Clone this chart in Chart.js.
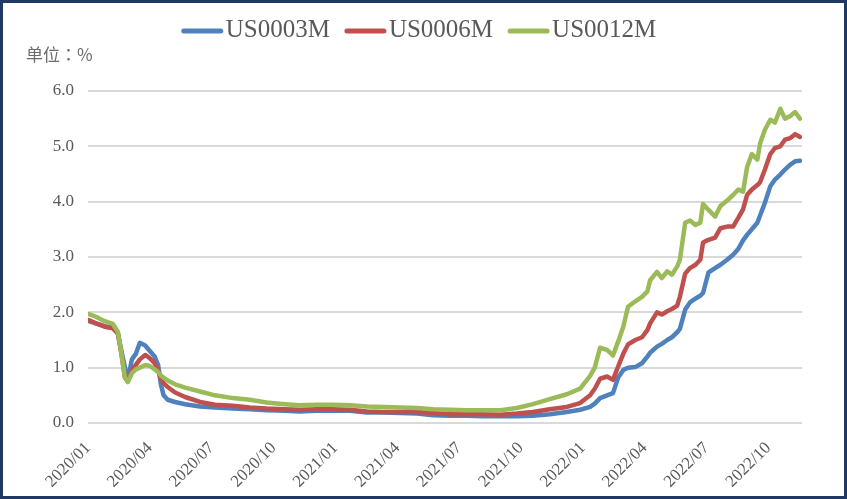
<!DOCTYPE html>
<html>
<head>
<meta charset="utf-8">
<script src="https://cdn.jsdelivr.net/npm/chart.js@4"></script>
<style>
  html, body { margin: 0; padding: 0; background: #fff; }
  #wrap { width: 847px; height: 499px; box-sizing: border-box; border: 3px solid #1F3864; background: #fff; }
  canvas { display: block; }
</style>
</head>
<body>
<div id="wrap"><canvas id="myChart" width="841" height="493"></canvas></div>
<script>
// dates of the sampled points
const dates = [
  '2020-01-02','2020-01-13','2020-01-26','2020-02-07','2020-02-14','2020-02-19','2020-02-24','2020-02-28',
  '2020-03-05','2020-03-11','2020-03-17','2020-03-25','2020-04-01','2020-04-08','2020-04-13','2020-04-17',
  '2020-04-21','2020-04-27','2020-05-08','2020-05-23','2020-06-14','2020-07-06','2020-08-02','2020-08-27',
  '2020-09-21','2020-10-18','2020-11-09','2020-12-04','2020-12-28','2021-01-23','2021-02-16','2021-03-11',
  '2021-04-05','2021-04-30','2021-05-24','2021-06-18','2021-07-13','2021-08-06','2021-09-01','2021-09-25',
  '2021-10-19','2021-11-13','2021-12-08','2021-12-28','2022-01-12','2022-01-19','2022-01-27','2022-02-06',
  '2022-02-14','2022-02-21','2022-02-28','2022-03-07','2022-03-18','2022-03-28','2022-04-05','2022-04-09',
  '2022-04-19','2022-04-26','2022-05-04','2022-05-11','2022-05-19','2022-05-23','2022-05-31','2022-06-07',
  '2022-06-15','2022-06-22','2022-06-26','2022-07-04','2022-07-14','2022-07-22','2022-08-01','2022-08-10',
  '2022-08-18','2022-08-25','2022-08-31','2022-09-07','2022-09-15','2022-09-19','2022-09-26','2022-10-04',
  '2022-10-11','2022-10-19','2022-10-26','2022-11-03','2022-11-10','2022-11-17'
]

const us0003m = [
  1.84,1.8,1.75,1.72,1.62,1.3,1.0,0.78,1.15,1.25,1.45,1.4,1.3,1.2,1.05,0.7,0.5,0.42,0.38,0.34,
  0.3,0.28,0.26,0.25,0.23,0.22,0.21,0.22,0.22,0.22,
  0.19,0.19,0.18,0.17,0.14,0.13,0.13,0.12,0.12,0.12,
  0.13,0.16,0.2,0.24,0.29,0.35,0.45,0.5,0.54,0.82,
  0.96,1.0,1.01,1.08,1.2,1.27,1.38,1.43,1.5,1.55,
  1.64,1.7,2.05,2.18,2.25,2.3,2.35,2.72,2.8,2.86,
  2.95,3.04,3.15,3.3,3.4,3.5,3.62,3.75,3.98,4.28,
  4.4,4.49,4.58,4.67,4.73,4.74
]

const us0006m = [
  1.86,1.8,1.74,1.71,1.62,1.25,0.82,0.75,0.95,1.05,1.15,1.23,1.17,1.08,0.95,0.8,0.72,0.65,0.55,0.47,
  0.38,0.33,0.31,0.28,0.26,0.25,0.24,0.25,0.25,0.24,
  0.21,0.2,0.2,0.2,0.18,0.16,0.16,0.16,0.15,0.17,
  0.2,0.25,0.29,0.36,0.5,0.62,0.8,0.84,0.78,1.02,
  1.25,1.42,1.5,1.55,1.68,1.8,2.0,1.96,2.02,2.06,
  2.12,2.28,2.7,2.8,2.86,2.95,3.26,3.31,3.35,3.52,
  3.55,3.55,3.71,3.86,4.12,4.22,4.3,4.35,4.58,4.86,
  4.97,5.0,5.12,5.15,5.22,5.17
]

const us0012m = [
  1.97,1.92,1.84,1.79,1.65,1.25,0.82,0.74,0.9,0.97,1.0,1.05,1.03,0.97,0.92,0.86,0.82,0.77,0.7,0.64,
  0.57,0.5,0.45,0.42,0.37,0.34,0.32,0.33,0.33,0.32,
  0.3,0.29,0.28,0.27,0.25,0.24,0.23,0.23,0.23,0.27,
  0.34,0.43,0.52,0.62,0.85,1.0,1.36,1.32,1.22,1.47,
  1.74,2.1,2.2,2.28,2.38,2.58,2.73,2.62,2.74,2.68,
  2.83,2.95,3.62,3.66,3.58,3.62,3.96,3.85,3.73,3.92,
  4.02,4.12,4.22,4.18,4.62,4.86,4.76,5.05,5.3,5.48,
  5.43,5.68,5.5,5.55,5.62,5.5
]

const seriesNames = ['US0003M', 'US0006M', 'US0012M']
const seriesColors = ['#4F81BD', '#C0504D', '#9BBB59']
const yTicks = [0, 1, 2, 3, 4, 5, 6]
const unitLabel = '单位：%'
const startDate = '2020-01-01'
const endDate = '2022-11-20'

// months since start, fractional
function toMonth(s) {
  const [y, m, d] = s.split('-').map(Number)
  const dim = new Date(y, m, 0).getDate()
  return (y - 2020) * 12 + (m - 1) + (d - 1) / dim
}

function monthLabel(v) {
  const y = 2020 + Math.floor(v / 12)
  const m = v % 12 + 1
  return y + '/' + String(m).padStart(2, '0')
}

const allSeries = [us0003m, us0006m, us0012m]

const datasets = allSeries.map((vals, i) => ({
  label: seriesNames[i],
  data: vals.map((v, j) => ({ x: toMonth(dates[j]), y: v })),
  borderColor: seriesColors[i],
  backgroundColor: seriesColors[i],
  borderWidth: 4.5,
  pointRadius: 0,
  tension: 0,
  borderJoinStyle: 'round',
  borderCapStyle: 'round',
  order: 3 - i
}))

const legendAndUnit = {
  id: 'legendAndUnit',
  afterDraw(chart) {
    const ctx = chart.ctx
    ctx.save()
    ctx.font = '25px "Liberation Serif"'
    ctx.textBaseline = 'middle'
    ctx.textAlign = 'left'
    const lineLen = 41, gapText = 3, gapItem = 15
    const widths = seriesNames.map(n => ctx.measureText(n).width)
    const total = widths.reduce((a, w) => a + lineLen + gapText + w, 0) + gapItem * (seriesNames.length - 1)
    let x = 416 - total / 2
    const y = 27
    seriesNames.forEach((n, i) => {
      ctx.strokeStyle = seriesColors[i]
      ctx.lineWidth = 5
      ctx.lineCap = 'round'
      ctx.beginPath()
      ctx.moveTo(x + 2, y + 1)
      ctx.lineTo(x + lineLen - 2, y + 1)
      ctx.stroke()
      ctx.fillStyle = '#595959'
      ctx.fillText(n, x + lineLen + gapText, y)
      x += lineLen + gapText + widths[i] + gapItem
    })
    ctx.font = '17px "Noto Sans CJK TC"'
    ctx.fillStyle = '#6B6B6B'
    ctx.fillText(unitLabel, 23, 52)
    ctx.restore()
  }
}

const tickFont = { family: 'Liberation Serif', size: 17 }

const myChart = new Chart(document.getElementById('myChart'), {
  type: 'line',
  data: { datasets: datasets },
  options: {
    responsive: false,
    animation: false,
    layout: { padding: { top: 88, right: 42, left: 0, bottom: 0 } },
    plugins: {
      legend: { display: false },
      tooltip: { enabled: false }
    },
    scales: {
      x: {
        type: 'linear',
        min: toMonth(startDate),
        max: toMonth(endDate),
        grid: { display: false, drawTicks: false },
        border: { display: false },
        afterBuildTicks: s => { s.ticks = s.ticks.filter(t => Number.isInteger(t.value) && t.value % 3 === 0) },
        afterFit: s => { s.height = 73 },
        ticks: {
          stepSize: 3,
          autoSkip: false,
          minRotation: 45,
          maxRotation: 45,
          padding: 15,
          color: '#595959',
          font: tickFont,
          callback: v => monthLabel(v)
        }
      },
      y: {
        min: yTicks[0],
        max: yTicks[yTicks.length - 1],
        grid: { color: '#D9D9D9', lineWidth: 2, drawTicks: false },
        border: { display: false },
        afterFit: s => { s.width = 85 },
        ticks: {
          stepSize: 1,
          padding: 14,
          color: '#595959',
          font: tickFont,
          callback: v => v.toFixed(1)
        }
      }
    }
  },
  plugins: [legendAndUnit]
})
</script>
</body>
</html>
